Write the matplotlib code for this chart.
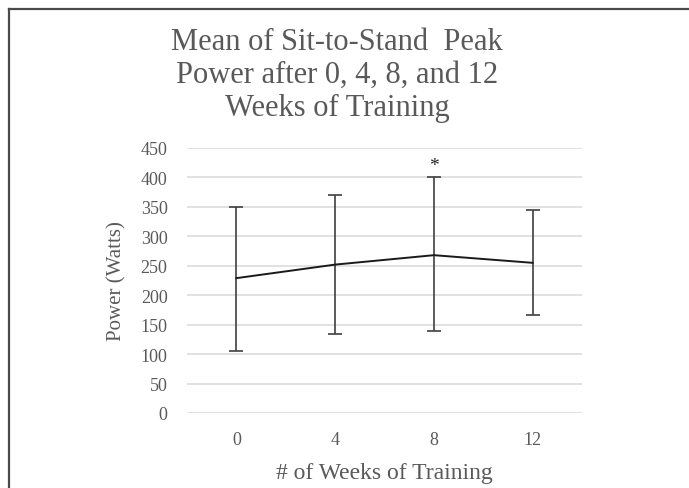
import matplotlib
matplotlib.use("Agg")
import matplotlib.pyplot as plt
from matplotlib.lines import Line2D

weeks = ["0", "4", "8", "12"]
mean_power = [229, 252, 268, 255]
upper_err = [121, 118, 132, 90]
lower_err = [123, 118, 129, 88]
y_ticks = [0, 50, 100, 150, 200, 250, 300, 350, 400, 450]
significant = ["8"]
title_lines = ["Mean of Sit-to-Stand  Peak", "Power after 0, 4, 8, and 12", "Weeks of Training"]

plt.rcParams['font.family'] = ['Liberation Serif', 'DejaVu Serif']
text_col = '#595959'

fig = plt.figure(figsize=(6.89, 4.89), dpi=100)
ax = fig.add_axes([187/689, 1-414/489, (582-187)/689, (414-149)/489])

x = list(range(len(weeks)))
ax.errorbar(x, mean_power, yerr=[lower_err, upper_err], color='#1a1a1a',
            linewidth=1.4, ecolor='#404040', elinewidth=1.2, capsize=5,
            capthick=1.2, zorder=3)

for i, w in enumerate(weeks):
    if w in significant:
        ax.text(i, mean_power[i] + upper_err[i] + 6, '*', ha='center', va='bottom',
                fontsize=14, color='#222222')

ax.set_xlim(-0.5, len(weeks) - 0.5)
ax.set_ylim(0, 450)
ax.set_yticks(y_ticks)
ax.set_xticks(x)
ax.set_xticklabels(weeks)
ax.tick_params(length=0, labelsize=13, labelcolor=text_col)
ax.tick_params(axis='y', pad=14)
ax.tick_params(axis='x', pad=13)
ax.grid(axis='y', color='#d9d9d9', linewidth=1.1)
ax.set_axisbelow(True)
for s in ax.spines.values():
    s.set_visible(False)

ax.set_ylabel('Power (Watts)', fontsize=15, color=text_col, labelpad=10)
ax.set_xlabel('# of Weeks of Training', fontsize=17, color=text_col, labelpad=10)

baselines = [50, 83, 116]
for line, yb in zip(title_lines, baselines):
    fig.text(337/689, 1-yb/489, line, ha='center', va='baseline', fontsize=22,
             color=text_col)

# frame border lines (top and left)
fig.add_artist(Line2D([8.5/689, 1], [1-10/489, 1-10/489], color='#4a4a4a', linewidth=1.6,
                      transform=fig.transFigure))
fig.add_artist(Line2D([8.5/689, 8.5/689], [0, 1-10/489], color='#4a4a4a', linewidth=1.6,
                      transform=fig.transFigure))

fig.savefig('out.png', dpi=100)
